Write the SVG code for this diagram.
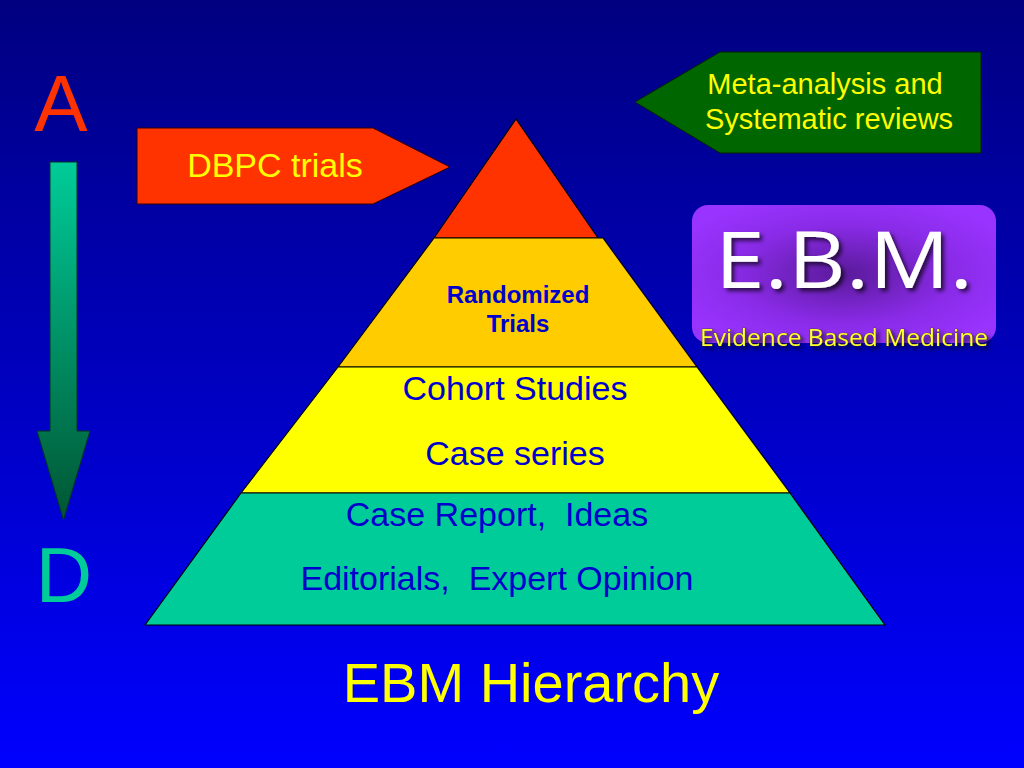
<svg xmlns="http://www.w3.org/2000/svg" width="1024" height="768" viewBox="0 0 1024 768">
  <defs>
    <linearGradient id="bg" x1="0" y1="0" x2="0" y2="1">
      <stop offset="0" stop-color="#000080"/>
      <stop offset="1" stop-color="#0000FF"/>
    </linearGradient>
    <linearGradient id="arrowGrad" x1="0" y1="0" x2="0" y2="1">
      <stop offset="0" stop-color="#00CC99"/>
      <stop offset="1" stop-color="#005533"/>
    </linearGradient>
    <radialGradient id="ebmGrad" cx="0.5" cy="0.5" r="0.6">
      <stop offset="0" stop-color="#5A1A9A"/>
      <stop offset="0.6" stop-color="#8A2BE8"/>
      <stop offset="1" stop-color="#9933FF"/>
    </radialGradient>
    <filter id="shadow" x="-10%" y="-10%" width="130%" height="130%">
      <feDropShadow dx="3" dy="3" stdDeviation="2" flood-color="#000000" flood-opacity="0.7"/>
    </filter>
  </defs>
  <style>
    .sans { font-family: "Liberation Sans", Arial, sans-serif; }
    .layer { stroke: #000000; stroke-width: 1.2; stroke-linejoin: round; }
    .ytxt { fill: #FFFF00; }
    .btxt { fill: #0000CC; }
  </style>

  <rect x="0" y="0" width="1024" height="768" fill="url(#bg)"/>

  <g id="scale-A">
    <text class="sans" x="61" y="131" font-size="80" text-anchor="middle" fill="#FF3300">A</text>
  </g>
  <g id="scale-arrow">
    <path d="M50,162 L77,162 L77,431 L90,431 L63.5,520 L37,431 L50,431 Z" fill="url(#arrowGrad)" stroke="#003322" stroke-width="1"/>
  </g>
  <g id="scale-D">
    <text class="sans" x="64" y="602" font-size="78" text-anchor="middle" fill="#00CC99">D</text>
  </g>

  <g id="pyramid">
    <g id="layer-top">
      <polygon class="layer" points="516,119 598,238 434,238" fill="#FF3300"/>
    </g>
    <g id="layer-randomized">
      <polygon class="layer" points="434,238 603,238 697,367 338,367" fill="#FFCC00"/>
      <text class="sans btxt" x="518" y="303" font-size="24" font-weight="bold" text-anchor="middle">Randomized</text>
      <text class="sans btxt" x="518" y="332" font-size="24" font-weight="bold" text-anchor="middle">Trials</text>
    </g>
    <g id="layer-cohort">
      <polygon class="layer" points="338,367 697,367 790,493 241,493" fill="#FFFF00"/>
      <text class="sans btxt" x="515" y="400" font-size="34" text-anchor="middle">Cohort Studies</text>
      <text class="sans btxt" x="515" y="465" font-size="34" text-anchor="middle">Case series</text>
    </g>
    <g id="layer-case">
      <polygon class="layer" points="241,493 790,493 885,625 145,625" fill="#00CC99"/>
      <text class="sans btxt" x="497" y="526" font-size="34" text-anchor="middle" xml:space="preserve">Case Report,  Ideas</text>
      <text class="sans btxt" x="497" y="590" font-size="34" text-anchor="middle" xml:space="preserve">Editorials,  Expert Opinion</text>
    </g>
  </g>

  <g id="dbpc">
    <polygon points="137,128 373,128 450,167 373,204 137,204" fill="#FF3300" stroke="#330000" stroke-width="1"/>
    <text class="sans ytxt" x="275" y="177" font-size="34" text-anchor="middle">DBPC trials</text>
  </g>

  <g id="meta">
    <polygon points="720,52 981,52 981,153 720,153 635,102" fill="#006600" stroke="#002200" stroke-width="1"/>
    <text class="sans ytxt" x="825" y="94" font-size="29" text-anchor="middle">Meta-analysis and</text>
    <text class="sans ytxt" x="829" y="129" font-size="29" text-anchor="middle">Systematic reviews</text>
  </g>

  <g id="ebm">
    <rect x="692" y="205" width="304" height="138" rx="16" ry="16" fill="url(#ebmGrad)"/>
    <text x="844" y="288" font-family="'Open Sans', 'Noto Sans', sans-serif" font-size="78" text-anchor="middle" fill="#FFFFFF" filter="url(#shadow)" textLength="258" lengthAdjust="spacingAndGlyphs">E.B.M.</text>
    <text x="844" y="346" font-family="'Open Sans', 'Noto Sans', sans-serif" font-size="23" text-anchor="middle" fill="#FFFF33" stroke="#333300" stroke-width="0.6" paint-order="stroke" filter="url(#shadow)" textLength="288" lengthAdjust="spacingAndGlyphs">Evidence Based Medicine</text>
  </g>

  <g id="title">
    <text class="sans ytxt" x="531" y="702" font-size="56" text-anchor="middle">EBM Hierarchy</text>
  </g>
</svg>
